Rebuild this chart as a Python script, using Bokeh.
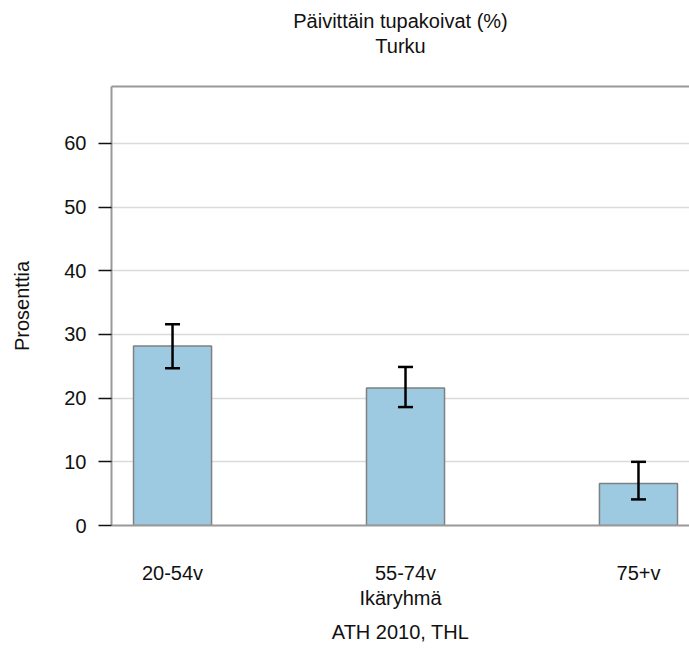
from bokeh.plotting import figure
from bokeh.models import (Range1d, FixedTicker, LinearAxis, Title, Whisker,
                          TeeHead, ColumnDataSource)
from bokeh.embed import file_html
from bokeh.resources import INLINE

categories = ["20-54v", "55-74v", "75+v"]
values = [28.2, 21.6, 6.6]
lower = [24.7, 18.6, 4.1]
upper = [31.6, 24.9, 10.0]
yticks = [0, 10, 20, 30, 40, 50, 60]

title_main = "Päivittäin tupakoivat (%)"
title_sub = "Turku"
xlabel = "Ikäryhmä"
ylabel = "Prosenttia"
caption = "ATH 2010, THL"

FONT = "Liberation Sans"
FS = "20px"
TXT = "#111111"

xpos = list(range(1, len(categories) + 1))
src = ColumnDataSource(dict(x=xpos, top=values, lower=lower, upper=upper))

p = figure(width=689, height=651, output_backend="svg", toolbar_location=None,
           x_range=Range1d(0.738, 3.219), y_range=Range1d(0, 68.95),
           min_border_left=111, min_border_right=0, min_border_top=86,
           min_border_bottom=126, x_axis_location=None, y_axis_location=None)
p.outline_line_color = None
p.background_fill_color = "white"
p.border_fill_color = "white"

# axes
yax = LinearAxis(ticker=FixedTicker(ticks=yticks), axis_label=ylabel)
yax.axis_line_color = "#999999"
yax.axis_line_width = 2
yax.major_tick_line_color = "#111111"
yax.major_tick_line_width = 1.5
yax.major_tick_out = 13
yax.major_tick_in = 0
yax.minor_tick_line_color = None
yax.major_label_standoff = 12
yax.major_label_text_font = FONT
yax.major_label_text_font_size = FS
yax.major_label_text_color = TXT
yax.axis_label_text_font = FONT
yax.axis_label_text_font_size = FS
yax.axis_label_text_font_style = "normal"
yax.axis_label_text_color = TXT
yax.axis_label_standoff = 28
p.add_layout(yax, "left")

xax = LinearAxis(ticker=FixedTicker(ticks=xpos), axis_label=xlabel,
                 major_label_overrides={xp: c for xp, c in zip(xpos, categories)})
xax.axis_line_color = "#999999"
xax.axis_line_width = 2
xax.major_tick_line_color = None
xax.major_tick_out = 0
xax.major_tick_in = 0
xax.minor_tick_line_color = None
xax.major_label_standoff = 36
xax.major_label_text_font = FONT
xax.major_label_text_font_size = FS
xax.major_label_text_color = TXT
xax.axis_label_text_font = FONT
xax.axis_label_text_font_size = FS
xax.axis_label_text_font_style = "normal"
xax.axis_label_text_color = TXT
xax.axis_label_standoff = 0
p.add_layout(xax, "below")

# top border line; its blank label only reserves space below the titles
top_ax = LinearAxis(ticker=FixedTicker(ticks=[]), axis_label=" ")
top_ax.axis_line_color = "#999999"
top_ax.axis_line_width = 2
top_ax.major_tick_line_color = None
top_ax.minor_tick_line_color = None
top_ax.major_tick_out = 0
top_ax.major_label_text_font_size = "0px"
top_ax.axis_label_text_font_size = FS
top_ax.axis_label_text_alpha = 0
top_ax.axis_label_standoff = 5
p.add_layout(top_ax, "above")

cap = Title(text=caption, align="center", text_font=FONT, text_font_size=FS,
            text_font_style="normal", text_color=TXT, standoff=14)
p.add_layout(cap, "below")

t_sub = Title(text=title_sub, align="center", text_font=FONT, text_font_size=FS,
              text_font_style="normal", text_color=TXT, standoff=0)
p.add_layout(t_sub, "above")
t_main = Title(text=title_main, align="center", text_font=FONT, text_font_size=FS,
               text_font_style="normal", text_color=TXT, standoff=2)
p.add_layout(t_main, "above")

p.xgrid.visible = False
p.ygrid.ticker = FixedTicker(ticks=yticks)
p.ygrid.grid_line_color = "#dadada"
p.ygrid.grid_line_width = 1.5

p.vbar(x="x", top="top", width=0.335, source=src, fill_color="#9ecae1",
       line_color="#808080", line_width=1.5)

wh = Whisker(base="x", lower="lower", upper="upper", source=src,
             line_color="black", line_width=2.5, level="overlay",
             upper_head=TeeHead(size=15, line_width=2.5, line_color="black"),
             lower_head=TeeHead(size=15, line_width=2.5, line_color="black"))
p.add_layout(wh)

open("out.html", "w").write(file_html(p, INLINE))
